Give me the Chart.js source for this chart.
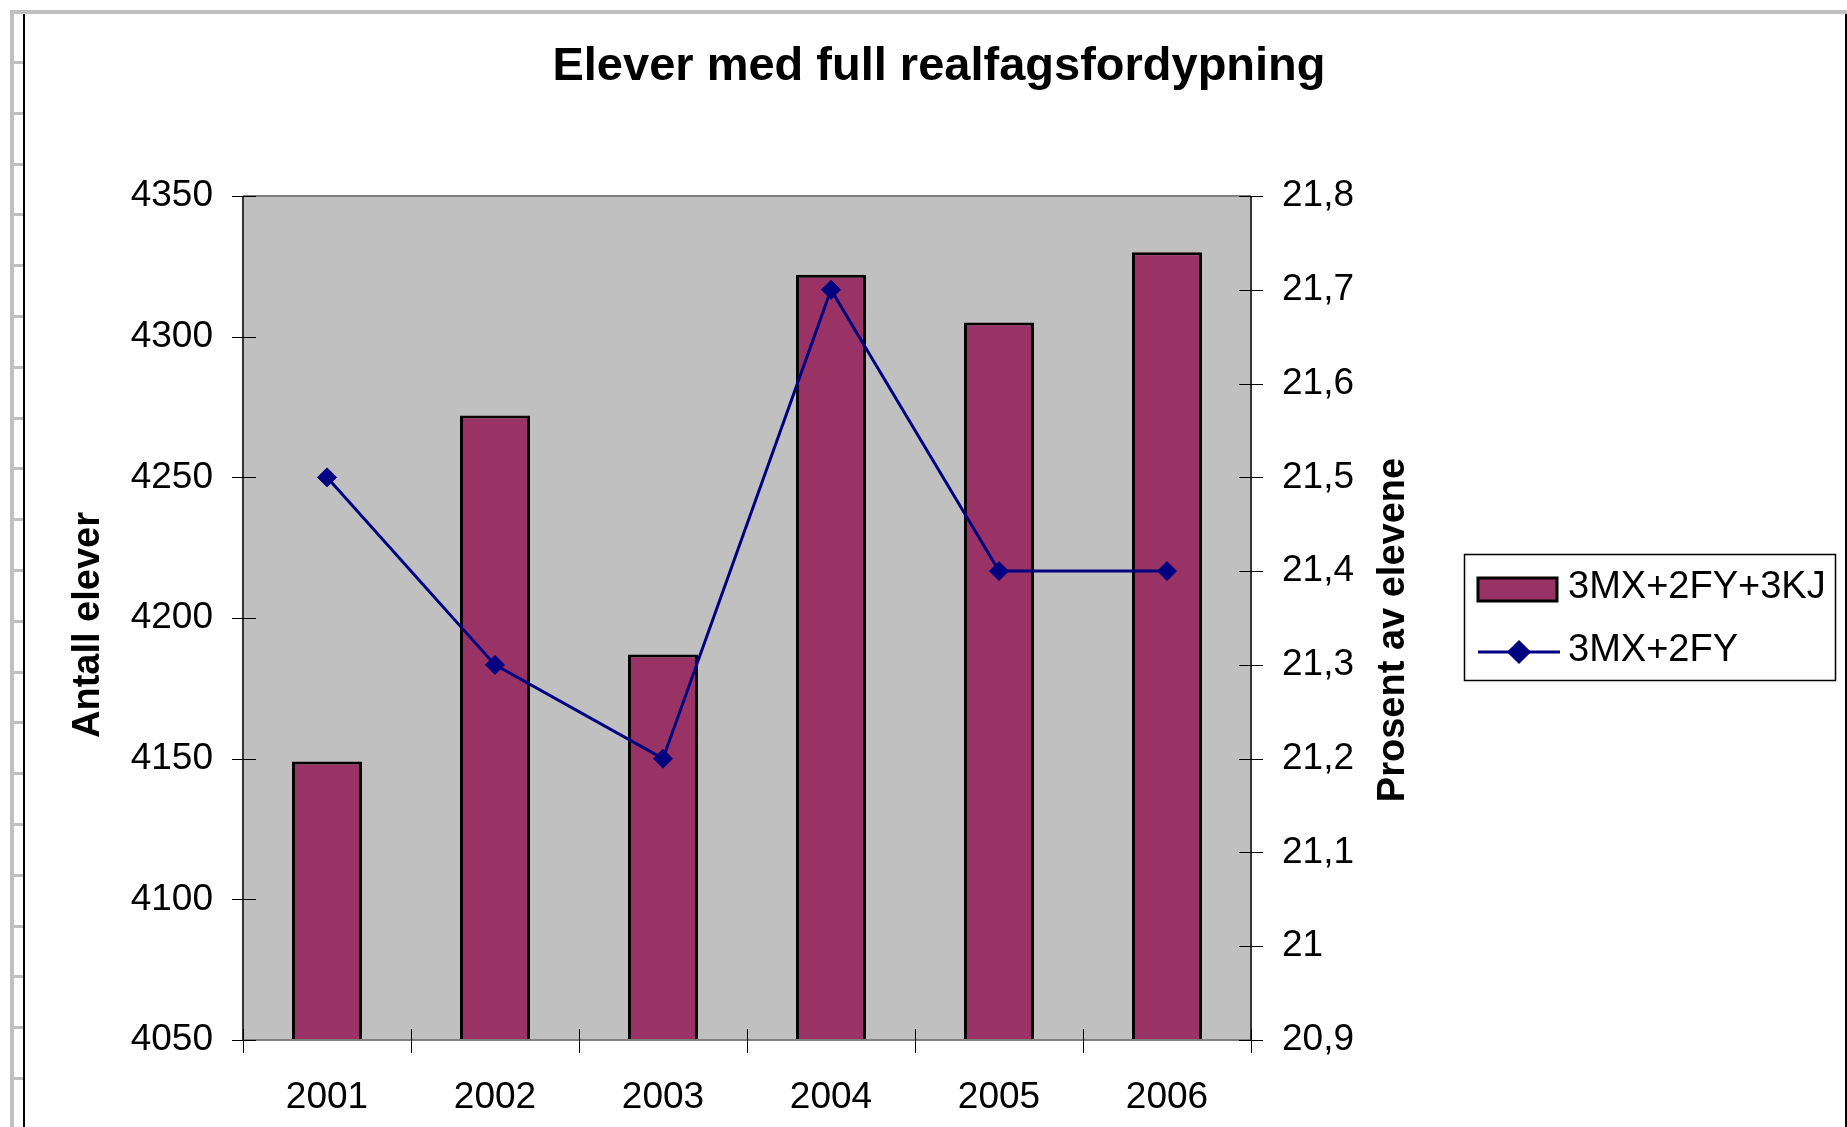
<!DOCTYPE html>
<html>
<head>
<meta charset="utf-8">
<title>Elever med full realfagsfordypning</title>
<script src="https://cdn.jsdelivr.net/npm/chart.js@4.4.0/dist/chart.umd.min.js"></script>
<style>
  html, body { margin: 0; padding: 0; background: #fff; }
  #wrap { width: 1847px; height: 1127px; }
</style>
</head>
<body>
<div id="wrap"><canvas id="chart" width="1847" height="1127"></canvas></div>
<script>
const years = ['2001', '2002', '2003', '2004', '2005', '2006'];
const elever = [4149, 4272, 4187, 4322, 4305, 4330];
const prosent = [21.5, 21.3, 21.2, 21.7, 21.4, 21.4];
const leftTicks = ['4050', '4100', '4150', '4200', '4250', '4300', '4350'];
const rightTicks = ['20,9', '21', '21,1', '21,2', '21,3', '21,4', '21,5', '21,6', '21,7', '21,8'];
const seriesNames = ['3MX+2FY+3KJ', '3MX+2FY'];
const chartTitle = 'Elever med full realfagsfordypning';
const leftTitle = 'Antall elever';
const rightTitle = 'Prosent av elevene';

const FONT = '"Liberation Sans", Arial, sans-serif';
Chart.defaults.font.family = FONT;
Chart.defaults.color = '#000';

// frame, plot background, tick marks, titles and legend
const decor = {
  id: 'decor',
  beforeDraw(chart) {
    const { ctx, chartArea: a } = chart;
    ctx.save();
    ctx.fillStyle = '#fff';
    ctx.fillRect(0, 0, chart.width, chart.height);
    ctx.fillStyle = '#c0c0c0';
    ctx.fillRect(10, 10, chart.width - 10, 4);
    ctx.fillRect(10, 10, 4, chart.height - 10);
    for (let y = 62; y < chart.height; y += 50.8) {
      ctx.fillRect(10, Math.round(y) - 1, 14, 3);
    }
    ctx.fillStyle = '#000';
    ctx.fillRect(23, 14, 2, chart.height);
    ctx.fillRect(1845, 14, 2, chart.height);
    ctx.fillStyle = '#c0c0c0';
    ctx.fillRect(a.left, a.top, a.right - a.left, a.bottom - a.top);
    ctx.restore();
  },
  afterDraw(chart) {
    const { ctx, chartArea: a } = chart;
    const x = chart.scales.x, yl = chart.scales.y, yr = chart.scales.y1;
    ctx.save();

    // plot border and axis lines
    ctx.strokeStyle = '#808080';
    ctx.lineWidth = 2;
    ctx.beginPath();
    ctx.moveTo(a.left, a.top); ctx.lineTo(a.right, a.top);
    ctx.moveTo(a.left, a.bottom); ctx.lineTo(a.right, a.bottom);
    ctx.stroke();
    ctx.strokeStyle = '#333';
    ctx.beginPath();
    ctx.moveTo(a.left, a.top); ctx.lineTo(a.left, a.bottom);
    ctx.moveTo(a.right, a.top); ctx.lineTo(a.right, a.bottom);
    ctx.stroke();

    // tick marks
    ctx.strokeStyle = '#000';
    ctx.lineWidth = 1;
    ctx.beginPath();
    yl.ticks.forEach((t, i) => {
      const py = Math.round(yl.getPixelForTick(i)) + 0.5;
      ctx.moveTo(a.left - 11, py); ctx.lineTo(a.left + 13, py);
    });
    yr.ticks.forEach((t, i) => {
      const py = Math.round(yr.getPixelForTick(i)) + 0.5;
      ctx.moveTo(a.right - 12, py); ctx.lineTo(a.right + 12, py);
    });
    const step = x.getPixelForValue(1) - x.getPixelForValue(0);
    for (let i = 0; i <= years.length; i++) {
      const px = Math.round(x.getPixelForValue(0) - step / 2 + i * step) + 0.5;
      ctx.moveTo(px, a.bottom - 11); ctx.lineTo(px, a.bottom + 13);
    }
    ctx.stroke();

    // titles
    ctx.fillStyle = '#000';
    ctx.textAlign = 'center';
    ctx.textBaseline = 'alphabetic';
    ctx.font = 'bold 47px ' + FONT;
    ctx.fillText(chartTitle, 939, 80);

    ctx.font = 'bold 38px ' + FONT;
    ctx.textBaseline = 'middle';
    ctx.save();
    ctx.translate(89, 625);
    ctx.rotate(-Math.PI / 2);
    ctx.fillText(leftTitle, 0, 0);
    ctx.restore();
    ctx.save();
    ctx.translate(1394, 630);
    ctx.rotate(-Math.PI / 2);
    ctx.fillText(rightTitle, 0, 0);
    ctx.restore();

    // legend
    const bar = chart.data.datasets[0], line = chart.data.datasets[1];
    ctx.strokeStyle = '#000';
    ctx.lineWidth = 1.5;
    ctx.strokeRect(1464.5, 554.5, 371, 126);
    ctx.fillStyle = bar.backgroundColor;
    ctx.fillRect(1478, 578, 79, 23);
    ctx.lineWidth = 3;
    ctx.strokeRect(1478, 578, 79, 23);
    ctx.strokeStyle = line.borderColor;
    ctx.beginPath();
    ctx.moveTo(1478, 652); ctx.lineTo(1560, 652);
    ctx.stroke();
    ctx.fillStyle = line.borderColor;
    Chart.helpers.drawPoint(ctx, { pointStyle: 'rectRot', radius: 10, borderWidth: 1, rotation: 0 }, 1519, 652);
    ctx.fillStyle = '#000';
    ctx.font = '38px ' + FONT;
    ctx.textAlign = 'left';
    ctx.fillText(bar.label, 1568, 588);
    ctx.fillText(line.label, 1568, 651);

    ctx.restore();
  }
};

new Chart(document.getElementById('chart'), {
  data: {
    labels: years,
    datasets: [
      {
        type: 'bar',
        label: seriesNames[0],
        data: elever,
        yAxisID: 'y',
        backgroundColor: '#993366',
        borderColor: '#000',
        borderWidth: 3,
        borderSkipped: false,
        barPercentage: 0.417,
        categoryPercentage: 1,
        order: 2
      },
      {
        type: 'line',
        label: seriesNames[1],
        data: prosent,
        yAxisID: 'y1',
        borderColor: '#000080',
        backgroundColor: '#000080',
        borderWidth: 3,
        tension: 0,
        pointStyle: 'rectRot',
        pointRadius: 9.5,
        pointBorderWidth: 1,
        pointBackgroundColor: '#000080',
        pointBorderColor: '#000080',
        order: 1
      }
    ]
  },
  options: {
    responsive: false,
    animation: false,
    events: [],
    layout: { padding: { top: 196, right: 436, bottom: 0, left: 0 } },
    plugins: {
      legend: { display: false },
      title: { display: false },
      tooltip: { enabled: false }
    },
    scales: {
      x: {
        grid: { display: false, drawTicks: false },
        border: { display: false },
        ticks: { font: { size: 37 }, padding: 36, maxRotation: 0 },
        afterFit: (s) => { s.height = 87; }
      },
      y: {
        position: 'left',
        min: 4050,
        max: 4350,
        grid: { display: false, drawTicks: false },
        border: { display: false },
        ticks: {
          stepSize: 50,
          font: { size: 37 },
          padding: 30,
          callback: (v, i) => leftTicks[i]
        },
        afterFit: (s) => { s.width = 243; }
      },
      y1: {
        position: 'right',
        min: 20.9,
        max: 21.8,
        grid: { display: false, drawTicks: false },
        border: { display: false },
        ticks: {
          stepSize: 0.1,
          font: { size: 37 },
          padding: 31,
          callback: (v, i) => rightTicks[i]
        },
        afterFit: (s) => { s.width = 160; }
      }
    }
  },
  plugins: [decor]
});
</script>
</body>
</html>
